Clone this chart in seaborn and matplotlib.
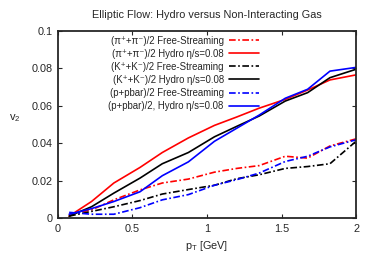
import pandas as pd
import matplotlib
matplotlib.use('Agg')
import matplotlib.pyplot as plt
import seaborn as sns

# pT grid (GeV)
pt = [0.075, 0.225, 0.375, 0.55, 0.7, 0.875, 1.05, 1.2, 1.35, 1.525, 1.675, 1.825, 2.0]

# v2 values
pi_free = [0.002, 0.0043, 0.0097, 0.015, 0.0187, 0.0208, 0.0245, 0.0265, 0.028, 0.033, 0.032, 0.0385, 0.0423]
pi_hydro = [0.001, 0.0088, 0.0187, 0.027, 0.035, 0.0428, 0.0495, 0.054, 0.0587, 0.0634, 0.0684, 0.0738, 0.0765]
k_free = [0.001, 0.0035, 0.006, 0.0093, 0.0128, 0.0152, 0.0175, 0.021, 0.0231, 0.0265, 0.0275, 0.029, 0.041]
k_hydro = [0.001, 0.006, 0.0133, 0.0213, 0.029, 0.035, 0.0434, 0.049, 0.0545, 0.0625, 0.067, 0.075, 0.0795]
p_free = [0.003, 0.002, 0.002, 0.0055, 0.0097, 0.0125, 0.0175, 0.0205, 0.024, 0.0302, 0.033, 0.038, 0.0418]
p_hydro = [0.002, 0.005, 0.0088, 0.014, 0.0226, 0.030, 0.041, 0.048, 0.055, 0.064, 0.0688, 0.0785, 0.0805]

labels = ['(π⁺+π⁻)/2 Free-Streaming', '(π⁺+π⁻)/2 Hydro η/s=0.08',
          '(K⁺+K⁻)/2 Free-Streaming', '(K⁺+K⁻)/2 Hydro η/s=0.08',
          '(p+pbar)/2 Free-Streaming', '(p+pbar)/2, Hydro η/s=0.08']
series = [pi_free, pi_hydro, k_free, k_hydro, p_free, p_hydro]
colors = ['#ff0000', '#ff0000', '#000000', '#000000', '#0000ff', '#0000ff']
dashdot = (0, (4, 1.5, 1, 1.5))
styles = [dashdot, '-', dashdot, '-', dashdot, '-']

sns.set_style('ticks')
plt.rcParams['font.family'] = ['Liberation Sans', 'DejaVu Sans']
plt.rcParams['mathtext.fontset'] = 'custom'
plt.rcParams['mathtext.rm'] = 'Liberation Sans'
plt.rcParams['mathtext.it'] = 'Liberation Sans:italic'

fig = plt.figure(figsize=(3.74, 2.62), dpi=100)
ax = fig.add_axes([0.155, 0.168, 0.797, 0.714])

for lab, vals, c, ls in zip(labels, series, colors, styles):
    df = pd.DataFrame({'pt': pt, 'v2': vals})
    sns.lineplot(data=df, x='pt', y='v2', ax=ax, color=c, linestyle=ls,
                 linewidth=1.2, label=lab)

ax.set_xlim(0, 2)
ax.set_ylim(0, 0.1)
ax.set_xticks([0, 0.5, 1, 1.5, 2])
ax.set_xticklabels(['0', '0.5', '1', '1.5', '2'])
ax.set_yticks([0, 0.02, 0.04, 0.06, 0.08, 0.1])
ax.set_yticklabels(['0', '0.02', '0.04', '0.06', '0.08', '0.1'])
ax.tick_params(direction='in', top=True, right=True, labelsize=7.8,
               length=3, width=0.8, pad=4)
for sp in ax.spines.values():
    sp.set_linewidth(1.3)

ax.set_title('Elliptic Flow: Hydro versus Non-Interacting Gas', fontsize=7.8, pad=9)
ax.set_xlabel(r'p$_\mathrm{T}$ [GeV]', fontsize=7.8, labelpad=4)
ax.set_ylabel(r'v$_2$', fontsize=8, rotation=0, labelpad=12)

ax.legend(loc='upper right', bbox_to_anchor=(0.675, 0.975), frameon=False,
          markerfirst=False, fontsize=6.9, handlelength=3.1,
          labelspacing=0.32, handletextpad=0.6, borderaxespad=0,
          borderpad=0)

fig.savefig('out.png', dpi=100)
